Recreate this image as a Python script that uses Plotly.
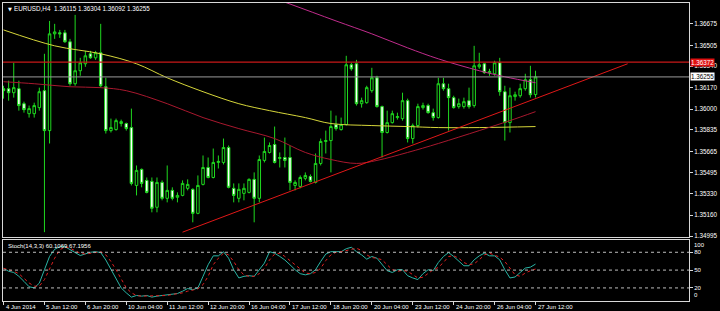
import plotly.graph_objects as go

# ---------------- data ----------------
bar_idx = list(range(105))

open_ = [1.36162, 1.36162, 1.36130, 1.36162, 1.36043, 1.35964, 1.35964, 1.36012, 1.36146, 1.35830,
         1.36596, 1.36604, 1.36604, 1.36533, 1.36201, 1.36304, 1.36359, 1.36438, 1.36406, 1.36446,
         1.36177, 1.35830, 1.35838, 1.35886, 1.35886, 1.35854, 1.35396, 1.35523, 1.35436, 1.35428,
         1.35223, 1.35420, 1.35294, 1.35357, 1.35302, 1.35317, 1.35373, 1.35365, 1.35175, 1.35404,
         1.35538, 1.35459, 1.35578, 1.35578, 1.35696, 1.35373, 1.35294, 1.35333, 1.35341, 1.35444,
         1.35294, 1.35594, 1.35657, 1.35720, 1.35609, 1.35617, 1.35617, 1.35396, 1.35388, 1.35452,
         1.35467, 1.35420, 1.35570, 1.35744, 1.35751, 1.35878, 1.35838, 1.35878, 1.36351, 1.36359,
         1.36043, 1.36051, 1.36146, 1.36248, 1.36020, 1.35815, 1.35893, 1.35933, 1.35925, 1.36067,
         1.35767, 1.35870, 1.36012, 1.36028, 1.35972, 1.35933, 1.36201, 1.36162, 1.36091, 1.36020,
         1.36020, 1.36067, 1.36028, 1.36335, 1.36359, 1.36288, 1.36280, 1.36367, 1.36138, 1.35893,
         1.36099, 1.36106, 1.36162, 1.36233, 1.36115]
high = [1.36185, 1.36225, 1.36367, 1.36225, 1.36059, 1.36028, 1.36051, 1.36170, 1.36438, 1.36698,
        1.36675, 1.36627, 1.36627, 1.36556, 1.36746, 1.36406, 1.36461, 1.36461, 1.36461, 1.36675,
        1.36248, 1.35925, 1.35925, 1.35917, 1.35893, 1.36004, 1.35554, 1.35530, 1.35459, 1.35459,
        1.35459, 1.35436, 1.35554, 1.35381, 1.35341, 1.35436, 1.35444, 1.35373, 1.35475, 1.35633,
        1.35617, 1.35688, 1.35633, 1.35767, 1.35712, 1.35412, 1.35412, 1.35412, 1.35452, 1.35499,
        1.35633, 1.35775, 1.35736, 1.35862, 1.35657, 1.35775, 1.35712, 1.35436, 1.35475, 1.35499,
        1.35483, 1.35649, 1.35767, 1.35830, 1.35988, 1.35949, 1.35933, 1.36422, 1.36367, 1.36390,
        1.36091, 1.36185, 1.36327, 1.36264, 1.36028, 1.35988, 1.35988, 1.35972, 1.36130, 1.36083,
        1.35886, 1.36043, 1.36051, 1.36043, 1.36004, 1.36248, 1.36248, 1.36201, 1.36106, 1.36083,
        1.36091, 1.36170, 1.36501, 1.36446, 1.36367, 1.36319, 1.36383, 1.36406, 1.36185, 1.36170,
        1.36138, 1.36201, 1.36280, 1.36343, 1.36304]
low = [1.36083, 1.36067, 1.36091, 1.35988, 1.35972, 1.35933, 1.35933, 1.35988, 1.35026, 1.35728,
       1.36556, 1.36564, 1.36525, 1.36185, 1.36185, 1.36264, 1.36335, 1.36398, 1.36390, 1.36170,
       1.35807, 1.35815, 1.35830, 1.35862, 1.35830, 1.35396, 1.35317, 1.35381, 1.35333, 1.35183,
       1.35183, 1.35278, 1.35262, 1.35278, 1.35262, 1.35310, 1.35357, 1.35104, 1.35168, 1.35396,
       1.35452, 1.35452, 1.35530, 1.35562, 1.35373, 1.35262, 1.35262, 1.35278, 1.35333, 1.35104,
       1.35262, 1.35578, 1.35649, 1.35570, 1.35538, 1.35538, 1.35357, 1.35357, 1.35373, 1.35436,
       1.35420, 1.35412, 1.35554, 1.35649, 1.35499, 1.35830, 1.35830, 1.35870, 1.36304, 1.36028,
       1.36012, 1.36043, 1.36130, 1.36012, 1.35617, 1.35807, 1.35886, 1.35917, 1.35909, 1.35736,
       1.35728, 1.35854, 1.35996, 1.35964, 1.35909, 1.35925, 1.36146, 1.35830, 1.36004, 1.36004,
       1.36004, 1.36004, 1.36012, 1.36319, 1.36280, 1.36264, 1.36264, 1.36106, 1.35751, 1.35815,
       1.36067, 1.36091, 1.36146, 1.36091, 1.36092]
close = [1.36146, 1.36130, 1.36170, 1.36028, 1.35996, 1.36004, 1.36028, 1.36138, 1.35830, 1.36596,
         1.36611, 1.36596, 1.36533, 1.36201, 1.36304, 1.36367, 1.36422, 1.36406, 1.36446, 1.36185,
         1.35830, 1.35854, 1.35909, 1.35901, 1.35846, 1.35412, 1.35515, 1.35412, 1.35341, 1.35215,
         1.35420, 1.35294, 1.35357, 1.35294, 1.35317, 1.35412, 1.35404, 1.35175, 1.35396, 1.35538,
         1.35459, 1.35578, 1.35586, 1.35696, 1.35381, 1.35317, 1.35365, 1.35373, 1.35444, 1.35294,
         1.35601, 1.35665, 1.35712, 1.35578, 1.35617, 1.35594, 1.35420, 1.35420, 1.35459, 1.35475,
         1.35428, 1.35570, 1.35744, 1.35751, 1.35862, 1.35846, 1.35878, 1.36351, 1.36319, 1.36043,
         1.36067, 1.36170, 1.36248, 1.36020, 1.35815, 1.35893, 1.35964, 1.35941, 1.36067, 1.35767,
         1.35870, 1.36020, 1.36028, 1.35972, 1.35933, 1.36201, 1.36162, 1.36091, 1.36012, 1.36043,
         1.36059, 1.36020, 1.36343, 1.36351, 1.36288, 1.36296, 1.36367, 1.36138, 1.35893, 1.36106,
         1.36114, 1.36162, 1.36233, 1.36114, 1.36255]

# moving averages (read at selected bars)
ma_yellow_idx = [0, 10, 19, 26, 32, 39, 46, 52, 59, 64, 72, 79, 85, 93, 104]
ma_yellow = [1.36627, 1.36501, 1.36438, 1.36359, 1.36248, 1.36138, 1.36043, 1.35988, 1.35933,
             1.35886, 1.35870, 1.35862, 1.35854, 1.35854, 1.35862]
ma_red_idx = [0, 6, 13, 19, 24, 32, 39, 46, 53, 59, 64, 69, 73, 79, 85, 93, 99, 104]
ma_red = [1.36217, 1.36201, 1.36177, 1.36170, 1.36146, 1.36043, 1.35933, 1.35846, 1.35767,
          1.35657, 1.35601, 1.35570, 1.35594, 1.35657, 1.35728, 1.35830, 1.35909, 1.35980]
ma_pink_idx = [50, 56, 65, 72, 79, 85, 93, 98, 104]
ma_pink = [1.36919, 1.36832, 1.36698, 1.36596, 1.36485, 1.36398, 1.36304, 1.36256, 1.36209]

trend_idx = [35, 122]
trend_price = [1.35026, 1.36359]
resistance = 1.36372
bid = 1.36255

price_ticks = [1.34995, 1.35160, 1.35330, 1.35495, 1.35665, 1.35835, 1.36000,
               1.36170, 1.36340, 1.36505, 1.36675]

stoch_k = [53, 48, 46, 39.5, 31, 22, 20, 28, 50.6, 73,
           85, 89.5, 89.5, 84, 79.5, 74.5, 77, 80, 81, 79.5,
           67, 50.6, 34, 20, 11.7, 4.5, 7.3, 6.2, 7.3, 4.5,
           6.2, 7.3, 9, 10, 10.6, 14.5, 19, 17, 20, 39.5,
           59, 74, 74, 81, 70, 50.6, 36.8, 39.5, 40.6, 39.5,
           50.6, 61.8, 81, 78.4, 73, 67, 59, 50.6, 44, 42,
           44, 50.6, 64.5, 77, 81, 81, 81, 86, 88.4, 81,
           75.6, 68.4, 72.9, 70, 59, 49, 46, 50.6, 50.6, 40.6,
           36.8, 34, 44, 50.6, 49, 62.8, 72.9, 79.5, 72.9, 64.5,
           57.3, 57.3, 67.3, 74, 78.4, 74, 74, 67.3, 50.6, 36.8,
           38.4, 46, 53.4, 55, 60.1]
stoch_d = [53, 50.6, 48, 44, 36.8, 28.4, 23, 23, 34, 53,
           70, 84, 89.5, 86.8, 83, 78.4, 77, 78.4, 80, 81,
           75.6, 64.5, 50.6, 34, 20, 11.7, 7.3, 6.2, 6.2, 6.2,
           6.2, 7.3, 7.3, 9, 10, 11.7, 14.5, 17, 18.4, 25.6,
           39.5, 59, 70, 78.4, 75.6, 64.5, 50.6, 42, 39.5, 39.5,
           44, 53, 67, 77, 78.4, 73, 66, 59, 50.6, 45,
           44, 46, 53, 66, 75.6, 80, 81, 83, 85, 86.8,
           83, 75.6, 71, 70, 67.3, 59, 50.6, 48, 49.5, 48,
           42, 36.8, 38, 44, 50.6, 54.5, 62.8, 72.9, 74, 70,
           62.8, 59, 60.6, 67.3, 75.6, 78.4, 75.6, 71.8, 64.5, 53.4,
           42, 39.5, 45, 49, 51.8]
stoch_levels = [20, 50, 80]

time_tick_idx = [0, 8, 16, 24, 32, 40, 48, 56, 64, 72, 80, 88, 96, 104]
time_tick_text = ["4 Jun 2014", "5 Jun 12:00", "6 Jun 20:00", "10 Jun 04:00", "11 Jun 12:00",
                  "12 Jun 20:00", "16 Jun 04:00", "17 Jun 12:00", "18 Jun 20:00", "20 Jun 04:00",
                  "23 Jun 12:00", "24 Jun 20:00", "26 Jun 04:00", "27 Jun 12:00"]

# ---------------- style ----------------
FONT = "Liberation Sans"
GREEN = "#1fd81f"
FRAME = "#d8d8d8"
XR = [-0.1, 134.0]

fig = go.Figure()

fig.add_trace(go.Candlestick(
    x=bar_idx, open=open_, high=high, low=low, close=close,
    xaxis="x", yaxis="y", whiskerwidth=0,
    increasing=dict(line=dict(color=GREEN, width=1), fillcolor="#000000"),
    decreasing=dict(line=dict(color=GREEN, width=1), fillcolor="#ffffff"),
    showlegend=False, hoverinfo="skip"))

fig.add_trace(go.Scatter(x=ma_yellow_idx, y=ma_yellow, mode="lines", line=dict(color="#d6d63a", width=1, shape="spline"),
                         xaxis="x", yaxis="y", showlegend=False, hoverinfo="skip"))
fig.add_trace(go.Scatter(x=ma_red_idx, y=ma_red, mode="lines", line=dict(color="#a8182e", width=1, shape="spline"),
                         xaxis="x", yaxis="y", showlegend=False, hoverinfo="skip"))
fig.add_trace(go.Scatter(x=ma_pink_idx, y=ma_pink, mode="lines", line=dict(color="#c02c8c", width=1, shape="spline"),
                         xaxis="x", yaxis="y", showlegend=False, hoverinfo="skip"))
fig.add_trace(go.Scatter(x=trend_idx, y=trend_price, mode="lines", line=dict(color="#e01818", width=1),
                         xaxis="x", yaxis="y", showlegend=False, hoverinfo="skip"))

fig.add_trace(go.Scatter(x=bar_idx, y=stoch_k, mode="lines", line=dict(color="#2ab5a5", width=1),
                         xaxis="x2", yaxis="y2", showlegend=False, hoverinfo="skip"))
fig.add_trace(go.Scatter(x=bar_idx, y=stoch_d, mode="lines", line=dict(color="#e02020", width=1, dash="dot"),
                         xaxis="x2", yaxis="y2", showlegend=False, hoverinfo="skip"))

shapes = [
    dict(type="line", xref="x domain", x0=0, x1=1, yref="y", y0=resistance, y1=resistance,
         line=dict(color="#c81818", width=1.2)),
    dict(type="line", xref="x domain", x0=0, x1=1, yref="y", y0=bid, y1=bid,
         line=dict(color="#9a9a9a", width=1)),
]
for lv in stoch_levels:
    shapes.append(dict(type="line", xref="x2 domain", x0=0, x1=1, yref="y2", y0=lv, y1=lv,
                       line=dict(color="#bdbdbd", width=1, dash="dot")))

annotations = [
    dict(text="▼", xref="paper", yref="paper", x=0.004, y=0.995, xanchor="left", yanchor="top",
         showarrow=False, font=dict(family="DejaVu Sans", size=5, color="#ffffff")),
    dict(text="EURUSD,H4  1.36115 1.36304 1.36092 1.36255", xref="paper", yref="paper",
         x=0.0135, y=1.0, xanchor="left", yanchor="top", showarrow=False,
         font=dict(family=FONT, size=6.3, color="#ffffff")),
    dict(text="Stoch(14,3,3) 60.1069 67.1956", xref="paper", yref="paper",
         x=0.005, y=0.203, xanchor="left", yanchor="top", showarrow=False,
         font=dict(family=FONT, size=6, color="#ffffff")),
    dict(text="1.36372", xref="paper", yref="y", x=1.0, y=resistance, xanchor="left", yanchor="middle",
         showarrow=False, bgcolor="#e01010", borderpad=0, xshift=1,
         font=dict(family=FONT, size=6.3, color="#ffffff")),
    dict(text="1.36255", xref="paper", yref="y", x=1.0, y=bid, xanchor="left", yanchor="middle",
         showarrow=False, bgcolor="#ffffff", borderpad=0, xshift=1,
         font=dict(family=FONT, size=6.3, color="#000000")),
    dict(text="100", xref="paper", yref="y2", x=1.0, y=100, xanchor="left", yanchor="top",
         showarrow=False, xshift=3, font=dict(family=FONT, size=6, color="#ffffff")),
    dict(text="0", xref="paper", yref="y2", x=1.0, y=0, xanchor="left", yanchor="bottom",
         showarrow=False, xshift=3, font=dict(family=FONT, size=6, color="#ffffff")),
]
for ti, tt in zip(time_tick_idx, time_tick_text):
    annotations.append(dict(text=tt, xref="x2", yref="paper", x=ti, y=0, xanchor="left", yanchor="top",
                            showarrow=False, xshift=0, yshift=-1,
                            font=dict(family=FONT, size=6, color="#ffffff")))

axis_common = dict(showgrid=False, zeroline=False, showline=True, mirror=True, linecolor=FRAME, linewidth=1)

fig.update_layout(
    width=720, height=311,
    margin=dict(l=2, r=29, t=2, b=10),
    paper_bgcolor="#000000", plot_bgcolor="#000000",
    font=dict(family=FONT, size=6.3, color="#ffffff"),
    showlegend=False,
    xaxis=dict(domain=[0, 1], range=XR, anchor="y", showticklabels=False, ticks="",
               rangeslider=dict(visible=False), **axis_common),
    yaxis=dict(domain=[0.214, 1], range=[1.34986, 1.36840], anchor="x", side="right",
               tickvals=price_ticks, ticktext=[f"{v:.5f}" for v in price_ticks],
               ticks="outside", ticklen=3, tickcolor=FRAME, tickfont=dict(size=6.3, color="#ffffff"),
               **axis_common),
    xaxis2=dict(domain=[0, 1], range=XR, anchor="y2", matches="x", tickvals=time_tick_idx,
                showticklabels=False, ticks="outside", ticklen=3, tickcolor=FRAME, **axis_common),
    yaxis2=dict(domain=[0, 0.204], range=[-2, 100.3], anchor="x2", side="right",
                tickvals=stoch_levels, ticktext=[str(v) for v in stoch_levels],
                ticks="outside", ticklen=3, tickcolor=FRAME, tickfont=dict(size=6, color="#ffffff"),
                **axis_common),
    shapes=shapes,
    annotations=annotations,
)

fig.write_html("out.html")
